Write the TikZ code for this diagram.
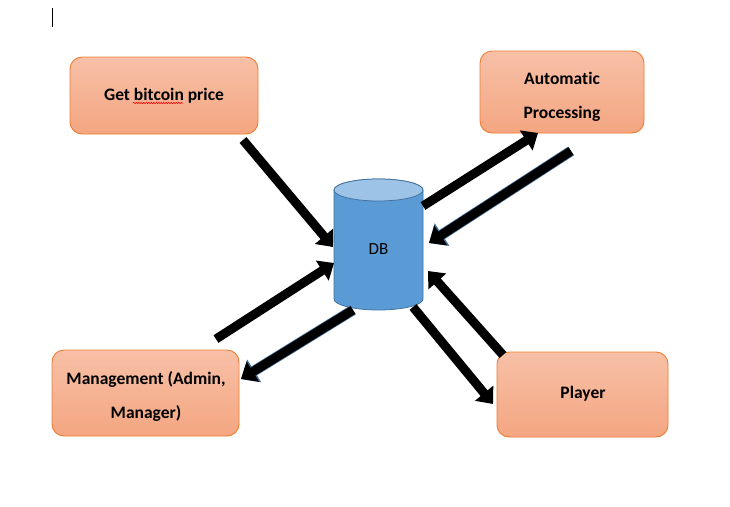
\documentclass[tikz,border=0pt]{standalone}
\usepackage{fontspec}
\setmainfont{Carlito}[Ligatures={NoCommon}]
\usetikzlibrary{arrows.meta,decorations.pathmorphing}
\definecolor{boxtop}{RGB}{247,192,167}
\definecolor{boxbot}{RGB}{244,166,129}
\definecolor{boxline}{RGB}{237,125,49}
\definecolor{dbbody}{RGB}{91,155,213}
\definecolor{dbtop}{RGB}{157,195,230}
\definecolor{dbline}{RGB}{65,113,156}
\begin{document}
\begin{tikzpicture}[x=1pt,y=-1pt,
  box/.style={draw=boxline, line width=0.9pt, rounded corners=12pt,
    top color=boxtop, bottom color=boxbot, inner sep=0pt},
  lbl/.style={font=\fontsize{17.5}{34}\selectfont\bfseries, align=center, inner sep=0pt},
  flow/.style={line width=9pt, -{Triangle[length=14pt,width=23pt]}},
  flowo/.style={draw=dbline, line width=10.5pt, -{Triangle[length=15.5pt,width=26pt]}},
  dbtext/.style={font=\fontsize{17}{20}\selectfont, inner sep=0pt},
]
\fill[white] (0,0) rectangle (730,506);
\useasboundingbox (0,0) rectangle (730,506);

% cursor mark
\coordinate (cur1) at (52.5,8);
\coordinate (cur2) at (52.5,27);
\draw[line width=1pt] (cur1) -- (cur2);

% boxes
\node[box, minimum width=188pt, minimum height=77pt] (btc) at (164,95.5) {};
\node[box, minimum width=164pt, minimum height=82pt] (auto) at (562,92) {};
\node[box, minimum width=187pt, minimum height=86pt] (mgmt) at (145.5,393) {};
\node[box, minimum width=171pt, minimum height=85pt] (player) at (582.5,394.5) {};

% labels
\node[lbl] (btcl) at (164,96) {Get bitcoin price};
\node[lbl] (autol) at (562,97) {Automatic\\Processing};
\node[lbl] (mgmtl) at (146,396) {Management (Admin,\\Manager)};
\node[lbl] (playerl) at (583,394) {Player};

% spell-check squiggle
\coordinate (sq1) at (133,103);
\coordinate (sq2) at (183,103);
\draw[red, line width=0.5pt, decorate, decoration={snake, amplitude=0.8pt, segment length=2.5pt}] (sq1) -- (sq2);

% database cylinder
\fill[dbbody, draw=dbline, line width=0.75pt] (334,190) -- (334,299)
  arc[start angle=180, end angle=360, x radius=44.5pt, y radius=11pt]
  -- (423,190)
  arc[start angle=0, end angle=180, x radius=44.5pt, y radius=11pt] -- cycle;
\filldraw[fill=dbtop, draw=dbline, line width=0.75pt] (378.5,190) ellipse[x radius=44.5pt, y radius=11pt];
\node[dbtext] (db) at (378.5,249) {DB};

% connectors
\coordinate (a1s) at (243,140);   \coordinate (a1e) at (333,247);
\coordinate (a2s) at (216,339);   \coordinate (a2e) at (334,263);
\coordinate (a3s) at (353,310);   \coordinate (a3e) at (241,379);
\coordinate (a4s) at (423,206);   \coordinate (a4e) at (538,133);
\coordinate (a5s) at (571,151);   \coordinate (a5e) at (429,243);
\coordinate (a6s) at (413,307);   \coordinate (a6e) at (493,404);
\coordinate (a7s) at (503,355);   \coordinate (a7e) at (428,271);

\draw[flow] (a1s) -- (a1e);
\draw[flow] (a2s) -- (a2e);
\draw[flowo] (a3s) -- (a3e);
\draw[flow] (a3s) -- (a3e);
\draw[flow] (a4s) -- (a4e);
\draw[flowo] (a5s) -- (a5e);
\draw[flow] (a5s) -- (a5e);
\draw[flow] (a6s) -- (a6e);
\draw[flow] (a7s) -- (a7e);
\end{tikzpicture}
\end{document}
